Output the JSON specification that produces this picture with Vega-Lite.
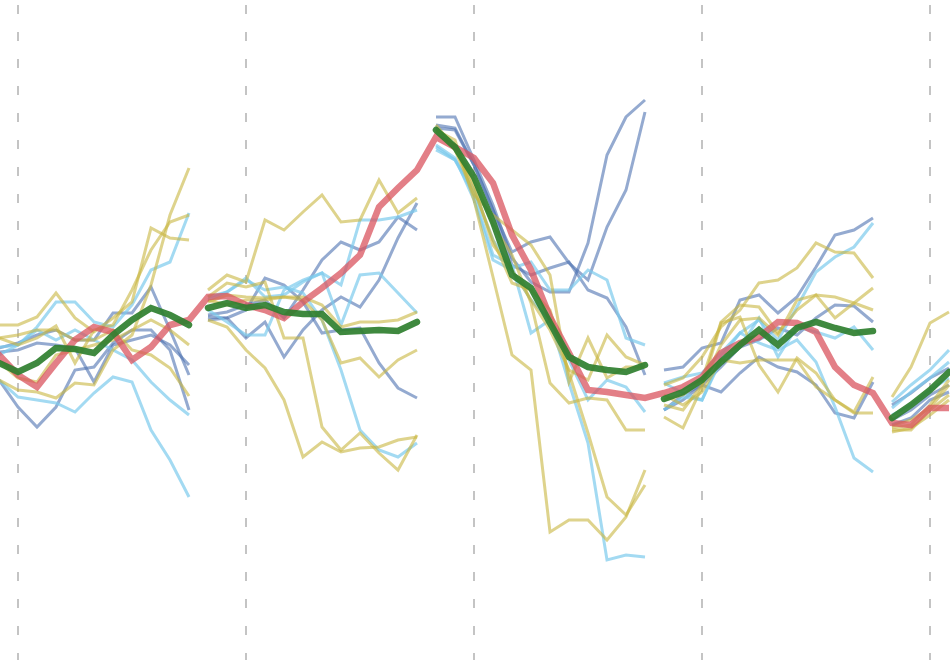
{
"$schema": "https://vega.github.io/schema/vega-lite/v6.json",
"width": 950, "height": 660, "padding": 0, "autosize": {"type": "none"},
"background": "white",
"config": {"view": {"stroke": null}},
"datasets": {
"grid": [{"t":2},{"t":14},{"t":26},{"t":38},{"t":50}],
"lines": [
{"kind":"red","line":"r","t":0,"v":15},{"kind":"red","line":"r","t":1,"v":5},{"kind":"red","line":"r","t":2,"v":-15},{"kind":"red","line":"r","t":3,"v":-27},{"kind":"red","line":"r","t":4,"v":-3},{"kind":"red","line":"r","t":5,"v":20},{"kind":"red","line":"r","t":6,"v":33},{"kind":"red","line":"r","t":7,"v":28},{"kind":"red","line":"r","t":8,"v":0},{"kind":"red","line":"r","t":9,"v":13},{"kind":"red","line":"r","t":10,"v":35},{"kind":"red","line":"r","t":11,"v":40},
{"kind":"red","line":"r","t":12,"v":63},{"kind":"red","line":"r","t":13,"v":64},{"kind":"red","line":"r","t":14,"v":55},{"kind":"red","line":"r","t":15,"v":50},{"kind":"red","line":"r","t":16,"v":42},{"kind":"red","line":"r","t":17,"v":58},{"kind":"red","line":"r","t":18,"v":72},{"kind":"red","line":"r","t":19,"v":87},{"kind":"red","line":"r","t":20,"v":105},{"kind":"red","line":"r","t":21,"v":153},{"kind":"red","line":"r","t":22,"v":172},{"kind":"red","line":"r","t":23,"v":190},
{"kind":"red","line":"r","t":24,"v":223},{"kind":"red","line":"r","t":25,"v":213},{"kind":"red","line":"r","t":26,"v":202},{"kind":"red","line":"r","t":27,"v":177},{"kind":"red","line":"r","t":28,"v":125},{"kind":"red","line":"r","t":29,"v":90},{"kind":"red","line":"r","t":30,"v":43},{"kind":"red","line":"r","t":31,"v":7},{"kind":"red","line":"r","t":32,"v":-30},{"kind":"red","line":"r","t":33,"v":-32},{"kind":"red","line":"r","t":34,"v":-35},{"kind":"red","line":"r","t":35,"v":-38},
{"kind":"red","line":"r","t":36,"v":-33},{"kind":"red","line":"r","t":37,"v":-27},{"kind":"red","line":"r","t":38,"v":-17},{"kind":"red","line":"r","t":39,"v":7},{"kind":"red","line":"r","t":40,"v":17},{"kind":"red","line":"r","t":41,"v":23},{"kind":"red","line":"r","t":42,"v":38},{"kind":"red","line":"r","t":43,"v":37},{"kind":"red","line":"r","t":44,"v":28},{"kind":"red","line":"r","t":45,"v":-7},{"kind":"red","line":"r","t":46,"v":-25},{"kind":"red","line":"r","t":47,"v":-33},
{"kind":"red","line":"r","t":48,"v":-63},{"kind":"red","line":"r","t":49,"v":-65},{"kind":"red","line":"r","t":50,"v":-48},{"kind":"red","line":"r","t":51,"v":-48},

{"kind":"green","line":"g1","t":0,"v":5},{"kind":"green","line":"g1","t":1,"v":-3},{"kind":"green","line":"g1","t":2,"v":-12},{"kind":"green","line":"g1","t":3,"v":-3},{"kind":"green","line":"g1","t":4,"v":12},{"kind":"green","line":"g1","t":5,"v":11},{"kind":"green","line":"g1","t":6,"v":7},{"kind":"green","line":"g1","t":7,"v":25},{"kind":"green","line":"g1","t":8,"v":40},{"kind":"green","line":"g1","t":9,"v":52},{"kind":"green","line":"g1","t":10,"v":45},{"kind":"green","line":"g1","t":11,"v":35},
{"kind":"green","line":"g2","t":12,"v":52},{"kind":"green","line":"g2","t":13,"v":57},{"kind":"green","line":"g2","t":14,"v":52},{"kind":"green","line":"g2","t":15,"v":55},{"kind":"green","line":"g2","t":16,"v":48},{"kind":"green","line":"g2","t":17,"v":46},{"kind":"green","line":"g2","t":18,"v":46},{"kind":"green","line":"g2","t":19,"v":28},{"kind":"green","line":"g2","t":20,"v":29},{"kind":"green","line":"g2","t":21,"v":30},{"kind":"green","line":"g2","t":22,"v":29},{"kind":"green","line":"g2","t":23,"v":38},
{"kind":"green","line":"g3","t":24,"v":230},{"kind":"green","line":"g3","t":25,"v":213},{"kind":"green","line":"g3","t":26,"v":183},{"kind":"green","line":"g3","t":27,"v":138},{"kind":"green","line":"g3","t":28,"v":85},{"kind":"green","line":"g3","t":29,"v":72},{"kind":"green","line":"g3","t":30,"v":37},{"kind":"green","line":"g3","t":31,"v":3},{"kind":"green","line":"g3","t":32,"v":-7},{"kind":"green","line":"g3","t":33,"v":-10},{"kind":"green","line":"g3","t":34,"v":-12},{"kind":"green","line":"g3","t":35,"v":-5},
{"kind":"green","line":"g4","t":36,"v":-39},{"kind":"green","line":"g4","t":37,"v":-32},{"kind":"green","line":"g4","t":38,"v":-20},{"kind":"green","line":"g4","t":39,"v":-2},{"kind":"green","line":"g4","t":40,"v":15},{"kind":"green","line":"g4","t":41,"v":30},{"kind":"green","line":"g4","t":42,"v":15},{"kind":"green","line":"g4","t":43,"v":32},{"kind":"green","line":"g4","t":44,"v":38},{"kind":"green","line":"g4","t":45,"v":32},{"kind":"green","line":"g4","t":46,"v":27},{"kind":"green","line":"g4","t":47,"v":29},
{"kind":"green","line":"g5","t":48,"v":-58},{"kind":"green","line":"g5","t":49,"v":-45},{"kind":"green","line":"g5","t":50,"v":-30},{"kind":"green","line":"g5","t":51,"v":-12},

{"kind":"kh","line":"1kh1","t":0,"v":-12},{"kind":"kh","line":"1kh1","t":1,"v":-20},{"kind":"kh","line":"1kh1","t":2,"v":-30},{"kind":"kh","line":"1kh1","t":3,"v":-32},{"kind":"kh","line":"1kh1","t":4,"v":-38},{"kind":"kh","line":"1kh1","t":5,"v":-23},{"kind":"kh","line":"1kh1","t":6,"v":-25},{"kind":"kh","line":"1kh1","t":7,"v":10},{"kind":"kh","line":"1kh1","t":8,"v":25},{"kind":"kh","line":"1kh1","t":9,"v":75},{"kind":"kh","line":"1kh1","t":10,"v":145},{"kind":"kh","line":"1kh1","t":11,"v":192},
{"kind":"kh","line":"1kh2","t":0,"v":35},{"kind":"kh","line":"1kh2","t":1,"v":35},{"kind":"kh","line":"1kh2","t":2,"v":35},{"kind":"kh","line":"1kh2","t":3,"v":43},{"kind":"kh","line":"1kh2","t":4,"v":67},{"kind":"kh","line":"1kh2","t":5,"v":42},{"kind":"kh","line":"1kh2","t":6,"v":28},{"kind":"kh","line":"1kh2","t":7,"v":42},{"kind":"kh","line":"1kh2","t":8,"v":58},{"kind":"kh","line":"1kh2","t":9,"v":132},{"kind":"kh","line":"1kh2","t":10,"v":122},{"kind":"kh","line":"1kh2","t":11,"v":120},
{"kind":"kh","line":"1kh3","t":0,"v":15},{"kind":"kh","line":"1kh3","t":1,"v":22},{"kind":"kh","line":"1kh3","t":2,"v":15},{"kind":"kh","line":"1kh3","t":3,"v":22},{"kind":"kh","line":"1kh3","t":4,"v":34},{"kind":"kh","line":"1kh3","t":5,"v":-3},{"kind":"kh","line":"1kh3","t":6,"v":30},{"kind":"kh","line":"1kh3","t":7,"v":35},{"kind":"kh","line":"1kh3","t":8,"v":70},{"kind":"kh","line":"1kh3","t":9,"v":110},{"kind":"kh","line":"1kh3","t":10,"v":138},{"kind":"kh","line":"1kh3","t":11,"v":145},
{"kind":"kh","line":"1kh4","t":0,"v":20},{"kind":"kh","line":"1kh4","t":1,"v":22},{"kind":"kh","line":"1kh4","t":2,"v":25},{"kind":"kh","line":"1kh4","t":3,"v":30},{"kind":"kh","line":"1kh4","t":4,"v":30},{"kind":"kh","line":"1kh4","t":5,"v":20},{"kind":"kh","line":"1kh4","t":6,"v":20},{"kind":"kh","line":"1kh4","t":7,"v":30},{"kind":"kh","line":"1kh4","t":8,"v":10},{"kind":"kh","line":"1kh4","t":9,"v":5},{"kind":"kh","line":"1kh4","t":10,"v":-8},{"kind":"kh","line":"1kh4","t":11,"v":-36},
{"kind":"kh","line":"1kh5","t":0,"v":5},{"kind":"kh","line":"1kh5","t":1,"v":-2},{"kind":"kh","line":"1kh5","t":2,"v":-18},{"kind":"kh","line":"1kh5","t":3,"v":-22},{"kind":"kh","line":"1kh5","t":4,"v":5},{"kind":"kh","line":"1kh5","t":5,"v":10},{"kind":"kh","line":"1kh5","t":6,"v":15},{"kind":"kh","line":"1kh5","t":7,"v":20},{"kind":"kh","line":"1kh5","t":8,"v":30},{"kind":"kh","line":"1kh5","t":9,"v":40},{"kind":"kh","line":"1kh5","t":10,"v":30},{"kind":"kh","line":"1kh5","t":11,"v":15},
{"kind":"lb","line":"1lb1","t":0,"v":15},{"kind":"lb","line":"1lb1","t":1,"v":13},{"kind":"lb","line":"1lb1","t":2,"v":15},{"kind":"lb","line":"1lb1","t":3,"v":33},{"kind":"lb","line":"1lb1","t":4,"v":58},{"kind":"lb","line":"1lb1","t":5,"v":58},{"kind":"lb","line":"1lb1","t":6,"v":38},{"kind":"lb","line":"1lb1","t":7,"v":33},{"kind":"lb","line":"1lb1","t":8,"v":55},{"kind":"lb","line":"1lb1","t":9,"v":90},{"kind":"lb","line":"1lb1","t":10,"v":98},{"kind":"lb","line":"1lb1","t":11,"v":147},
{"kind":"lb","line":"1lb2","t":0,"v":10},{"kind":"lb","line":"1lb2","t":1,"v":5},{"kind":"lb","line":"1lb2","t":2,"v":15},{"kind":"lb","line":"1lb2","t":3,"v":30},{"kind":"lb","line":"1lb2","t":4,"v":20},{"kind":"lb","line":"1lb2","t":5,"v":30},{"kind":"lb","line":"1lb2","t":6,"v":20},{"kind":"lb","line":"1lb2","t":7,"v":10},{"kind":"lb","line":"1lb2","t":8,"v":0},{"kind":"lb","line":"1lb2","t":9,"v":-22},{"kind":"lb","line":"1lb2","t":10,"v":-40},{"kind":"lb","line":"1lb2","t":11,"v":-55},
{"kind":"lb","line":"1lb3","t":0,"v":-15},{"kind":"lb","line":"1lb3","t":1,"v":-20},{"kind":"lb","line":"1lb3","t":2,"v":-37},{"kind":"lb","line":"1lb3","t":3,"v":-40},{"kind":"lb","line":"1lb3","t":4,"v":-43},{"kind":"lb","line":"1lb3","t":5,"v":-52},{"kind":"lb","line":"1lb3","t":6,"v":-33},{"kind":"lb","line":"1lb3","t":7,"v":-17},{"kind":"lb","line":"1lb3","t":8,"v":-22},{"kind":"lb","line":"1lb3","t":9,"v":-70},{"kind":"lb","line":"1lb3","t":10,"v":-100},{"kind":"lb","line":"1lb3","t":11,"v":-137},
{"kind":"db","line":"1db1","t":0,"v":12},{"kind":"db","line":"1db1","t":1,"v":12},{"kind":"db","line":"1db1","t":2,"v":17},{"kind":"db","line":"1db1","t":3,"v":25},{"kind":"db","line":"1db1","t":4,"v":30},{"kind":"db","line":"1db1","t":5,"v":20},{"kind":"db","line":"1db1","t":6,"v":20},{"kind":"db","line":"1db1","t":7,"v":47},{"kind":"db","line":"1db1","t":8,"v":47},{"kind":"db","line":"1db1","t":9,"v":73},{"kind":"db","line":"1db1","t":10,"v":30},{"kind":"db","line":"1db1","t":11,"v":-15},
{"kind":"db","line":"1db2","t":0,"v":-5},{"kind":"db","line":"1db2","t":1,"v":-20},{"kind":"db","line":"1db2","t":2,"v":-47},{"kind":"db","line":"1db2","t":3,"v":-67},{"kind":"db","line":"1db2","t":4,"v":-47},{"kind":"db","line":"1db2","t":5,"v":-10},{"kind":"db","line":"1db2","t":6,"v":-7},{"kind":"db","line":"1db2","t":7,"v":17},{"kind":"db","line":"1db2","t":8,"v":30},{"kind":"db","line":"1db2","t":9,"v":30},{"kind":"db","line":"1db2","t":10,"v":10},{"kind":"db","line":"1db2","t":11,"v":-50},
{"kind":"db","line":"1db3","t":0,"v":10},{"kind":"db","line":"1db3","t":1,"v":8},{"kind":"db","line":"1db3","t":2,"v":10},{"kind":"db","line":"1db3","t":3,"v":17},{"kind":"db","line":"1db3","t":4,"v":15},{"kind":"db","line":"1db3","t":5,"v":12},{"kind":"db","line":"1db3","t":6,"v":-22},{"kind":"db","line":"1db3","t":7,"v":15},{"kind":"db","line":"1db3","t":8,"v":20},{"kind":"db","line":"1db3","t":9,"v":25},{"kind":"db","line":"1db3","t":10,"v":15},{"kind":"db","line":"1db3","t":11,"v":-5},

{"kind":"kh","line":"2kh1","t":12,"v":70},{"kind":"kh","line":"2kh1","t":13,"v":85},{"kind":"kh","line":"2kh1","t":14,"v":78},{"kind":"kh","line":"2kh1","t":15,"v":140},{"kind":"kh","line":"2kh1","t":16,"v":130},{"kind":"kh","line":"2kh1","t":17,"v":148},{"kind":"kh","line":"2kh1","t":18,"v":165},{"kind":"kh","line":"2kh1","t":19,"v":138},{"kind":"kh","line":"2kh1","t":20,"v":140},{"kind":"kh","line":"2kh1","t":21,"v":180},{"kind":"kh","line":"2kh1","t":22,"v":147},{"kind":"kh","line":"2kh1","t":23,"v":162},
{"kind":"kh","line":"2kh2","t":12,"v":40},{"kind":"kh","line":"2kh2","t":13,"v":33},{"kind":"kh","line":"2kh2","t":14,"v":10},{"kind":"kh","line":"2kh2","t":15,"v":-8},{"kind":"kh","line":"2kh2","t":16,"v":-40},{"kind":"kh","line":"2kh2","t":17,"v":-97},{"kind":"kh","line":"2kh2","t":18,"v":-82},{"kind":"kh","line":"2kh2","t":19,"v":-92},{"kind":"kh","line":"2kh2","t":20,"v":-88},{"kind":"kh","line":"2kh2","t":21,"v":-87},{"kind":"kh","line":"2kh2","t":22,"v":-80},{"kind":"kh","line":"2kh2","t":23,"v":-77},
{"kind":"kh","line":"2kh3","t":12,"v":63},{"kind":"kh","line":"2kh3","t":13,"v":77},{"kind":"kh","line":"2kh3","t":14,"v":73},{"kind":"kh","line":"2kh3","t":15,"v":78},{"kind":"kh","line":"2kh3","t":16,"v":22},{"kind":"kh","line":"2kh3","t":17,"v":22},{"kind":"kh","line":"2kh3","t":18,"v":-67},{"kind":"kh","line":"2kh3","t":19,"v":-90},{"kind":"kh","line":"2kh3","t":20,"v":-73},{"kind":"kh","line":"2kh3","t":21,"v":-93},{"kind":"kh","line":"2kh3","t":22,"v":-110},{"kind":"kh","line":"2kh3","t":23,"v":-75},
{"kind":"kh","line":"2kh4","t":12,"v":60},{"kind":"kh","line":"2kh4","t":13,"v":55},{"kind":"kh","line":"2kh4","t":14,"v":60},{"kind":"kh","line":"2kh4","t":15,"v":60},{"kind":"kh","line":"2kh4","t":16,"v":63},{"kind":"kh","line":"2kh4","t":17,"v":60},{"kind":"kh","line":"2kh4","t":18,"v":40},{"kind":"kh","line":"2kh4","t":19,"v":-3},{"kind":"kh","line":"2kh4","t":20,"v":2},{"kind":"kh","line":"2kh4","t":21,"v":-17},{"kind":"kh","line":"2kh4","t":22,"v":0},{"kind":"kh","line":"2kh4","t":23,"v":10},
{"kind":"kh","line":"2kh5","t":12,"v":58},{"kind":"kh","line":"2kh5","t":13,"v":65},{"kind":"kh","line":"2kh5","t":14,"v":63},{"kind":"kh","line":"2kh5","t":15,"v":62},{"kind":"kh","line":"2kh5","t":16,"v":63},{"kind":"kh","line":"2kh5","t":17,"v":63},{"kind":"kh","line":"2kh5","t":18,"v":55},{"kind":"kh","line":"2kh5","t":19,"v":33},{"kind":"kh","line":"2kh5","t":20,"v":38},{"kind":"kh","line":"2kh5","t":21,"v":38},{"kind":"kh","line":"2kh5","t":22,"v":40},{"kind":"kh","line":"2kh5","t":23,"v":48},
{"kind":"lb","line":"2lb1","t":12,"v":63},{"kind":"lb","line":"2lb1","t":13,"v":68},{"kind":"lb","line":"2lb1","t":14,"v":82},{"kind":"lb","line":"2lb1","t":15,"v":63},{"kind":"lb","line":"2lb1","t":16,"v":65},{"kind":"lb","line":"2lb1","t":17,"v":78},{"kind":"lb","line":"2lb1","t":18,"v":87},{"kind":"lb","line":"2lb1","t":19,"v":75},{"kind":"lb","line":"2lb1","t":20,"v":140},{"kind":"lb","line":"2lb1","t":21,"v":140},{"kind":"lb","line":"2lb1","t":22,"v":143},{"kind":"lb","line":"2lb1","t":23,"v":150},
{"kind":"lb","line":"2lb2","t":12,"v":60},{"kind":"lb","line":"2lb2","t":13,"v":68},{"kind":"lb","line":"2lb2","t":14,"v":80},{"kind":"lb","line":"2lb2","t":15,"v":70},{"kind":"lb","line":"2lb2","t":16,"v":73},{"kind":"lb","line":"2lb2","t":17,"v":67},{"kind":"lb","line":"2lb2","t":18,"v":40},{"kind":"lb","line":"2lb2","t":19,"v":-10},{"kind":"lb","line":"2lb2","t":20,"v":-70},{"kind":"lb","line":"2lb2","t":21,"v":-90},{"kind":"lb","line":"2lb2","t":22,"v":-97},{"kind":"lb","line":"2lb2","t":23,"v":-83},
{"kind":"lb","line":"2lb3","t":12,"v":50},{"kind":"lb","line":"2lb3","t":13,"v":38},{"kind":"lb","line":"2lb3","t":14,"v":25},{"kind":"lb","line":"2lb3","t":15,"v":25},{"kind":"lb","line":"2lb3","t":16,"v":70},{"kind":"lb","line":"2lb3","t":17,"v":80},{"kind":"lb","line":"2lb3","t":18,"v":87},{"kind":"lb","line":"2lb3","t":19,"v":35},{"kind":"lb","line":"2lb3","t":20,"v":85},{"kind":"lb","line":"2lb3","t":21,"v":87},{"kind":"lb","line":"2lb3","t":22,"v":67},{"kind":"lb","line":"2lb3","t":23,"v":47},
{"kind":"db","line":"2db1","t":12,"v":43},{"kind":"db","line":"2db1","t":13,"v":42},{"kind":"db","line":"2db1","t":14,"v":22},{"kind":"db","line":"2db1","t":15,"v":38},{"kind":"db","line":"2db1","t":16,"v":3},{"kind":"db","line":"2db1","t":17,"v":30},{"kind":"db","line":"2db1","t":18,"v":50},{"kind":"db","line":"2db1","t":19,"v":63},{"kind":"db","line":"2db1","t":20,"v":53},{"kind":"db","line":"2db1","t":21,"v":80},{"kind":"db","line":"2db1","t":22,"v":122},{"kind":"db","line":"2db1","t":23,"v":157},
{"kind":"db","line":"2db2","t":12,"v":45},{"kind":"db","line":"2db2","t":13,"v":48},{"kind":"db","line":"2db2","t":14,"v":55},{"kind":"db","line":"2db2","t":15,"v":60},{"kind":"db","line":"2db2","t":16,"v":42},{"kind":"db","line":"2db2","t":17,"v":70},{"kind":"db","line":"2db2","t":18,"v":100},{"kind":"db","line":"2db2","t":19,"v":118},{"kind":"db","line":"2db2","t":20,"v":110},{"kind":"db","line":"2db2","t":21,"v":118},{"kind":"db","line":"2db2","t":22,"v":143},{"kind":"db","line":"2db2","t":23,"v":130},
{"kind":"db","line":"2db3","t":12,"v":40},{"kind":"db","line":"2db3","t":13,"v":42},{"kind":"db","line":"2db3","t":14,"v":50},{"kind":"db","line":"2db3","t":15,"v":82},{"kind":"db","line":"2db3","t":16,"v":75},{"kind":"db","line":"2db3","t":17,"v":58},{"kind":"db","line":"2db3","t":18,"v":27},{"kind":"db","line":"2db3","t":19,"v":30},{"kind":"db","line":"2db3","t":20,"v":32},{"kind":"db","line":"2db3","t":21,"v":-3},{"kind":"db","line":"2db3","t":22,"v":-28},{"kind":"db","line":"2db3","t":23,"v":-38},

{"kind":"db","line":"3db1","t":24,"v":243},{"kind":"db","line":"3db1","t":25,"v":243},{"kind":"db","line":"3db1","t":26,"v":200},{"kind":"db","line":"3db1","t":27,"v":155},{"kind":"db","line":"3db1","t":28,"v":102},{"kind":"db","line":"3db1","t":29,"v":78},{"kind":"db","line":"3db1","t":30,"v":68},{"kind":"db","line":"3db1","t":31,"v":68},{"kind":"db","line":"3db1","t":32,"v":117},{"kind":"db","line":"3db1","t":33,"v":205},{"kind":"db","line":"3db1","t":34,"v":243},{"kind":"db","line":"3db1","t":35,"v":260},
{"kind":"db","line":"3db2","t":24,"v":232},{"kind":"db","line":"3db2","t":25,"v":230},{"kind":"db","line":"3db2","t":26,"v":195},{"kind":"db","line":"3db2","t":27,"v":150},{"kind":"db","line":"3db2","t":28,"v":108},{"kind":"db","line":"3db2","t":29,"v":118},{"kind":"db","line":"3db2","t":30,"v":123},{"kind":"db","line":"3db2","t":31,"v":97},{"kind":"db","line":"3db2","t":32,"v":80},{"kind":"db","line":"3db2","t":33,"v":133},{"kind":"db","line":"3db2","t":34,"v":170},{"kind":"db","line":"3db2","t":35,"v":248},
{"kind":"db","line":"3db3","t":24,"v":235},{"kind":"db","line":"3db3","t":25,"v":232},{"kind":"db","line":"3db3","t":26,"v":195},{"kind":"db","line":"3db3","t":27,"v":150},{"kind":"db","line":"3db3","t":28,"v":95},{"kind":"db","line":"3db3","t":29,"v":85},{"kind":"db","line":"3db3","t":30,"v":92},{"kind":"db","line":"3db3","t":31,"v":98},{"kind":"db","line":"3db3","t":32,"v":70},{"kind":"db","line":"3db3","t":33,"v":62},{"kind":"db","line":"3db3","t":34,"v":33},{"kind":"db","line":"3db3","t":35,"v":-15},
{"kind":"lb","line":"3lb1","t":24,"v":210},{"kind":"lb","line":"3lb1","t":25,"v":200},{"kind":"lb","line":"3lb1","t":26,"v":170},{"kind":"lb","line":"3lb1","t":27,"v":120},{"kind":"lb","line":"3lb1","t":28,"v":92},{"kind":"lb","line":"3lb1","t":29,"v":98},{"kind":"lb","line":"3lb1","t":30,"v":70},{"kind":"lb","line":"3lb1","t":31,"v":70},{"kind":"lb","line":"3lb1","t":32,"v":90},{"kind":"lb","line":"3lb1","t":33,"v":80},{"kind":"lb","line":"3lb1","t":34,"v":22},{"kind":"lb","line":"3lb1","t":35,"v":15},
{"kind":"lb","line":"3lb2","t":24,"v":213},{"kind":"lb","line":"3lb2","t":25,"v":200},{"kind":"lb","line":"3lb2","t":26,"v":165},{"kind":"lb","line":"3lb2","t":27,"v":105},{"kind":"lb","line":"3lb2","t":28,"v":95},{"kind":"lb","line":"3lb2","t":29,"v":27},{"kind":"lb","line":"3lb2","t":30,"v":40},{"kind":"lb","line":"3lb2","t":31,"v":0},{"kind":"lb","line":"3lb2","t":32,"v":-40},{"kind":"lb","line":"3lb2","t":33,"v":-20},{"kind":"lb","line":"3lb2","t":34,"v":-27},{"kind":"lb","line":"3lb2","t":35,"v":-52},
{"kind":"lb","line":"3lb3","t":24,"v":215},{"kind":"lb","line":"3lb3","t":25,"v":202},{"kind":"lb","line":"3lb3","t":26,"v":160},{"kind":"lb","line":"3lb3","t":27,"v":100},{"kind":"lb","line":"3lb3","t":28,"v":90},{"kind":"lb","line":"3lb3","t":29,"v":60},{"kind":"lb","line":"3lb3","t":30,"v":40},{"kind":"lb","line":"3lb3","t":31,"v":-23},{"kind":"lb","line":"3lb3","t":32,"v":-83},{"kind":"lb","line":"3lb3","t":33,"v":-200},{"kind":"lb","line":"3lb3","t":34,"v":-195},{"kind":"lb","line":"3lb3","t":35,"v":-197},
{"kind":"kh","line":"3kh1","t":24,"v":230},{"kind":"kh","line":"3kh1","t":25,"v":220},{"kind":"kh","line":"3kh1","t":26,"v":160},{"kind":"kh","line":"3kh1","t":27,"v":83},{"kind":"kh","line":"3kh1","t":28,"v":5},{"kind":"kh","line":"3kh1","t":29,"v":-10},{"kind":"kh","line":"3kh1","t":30,"v":-172},{"kind":"kh","line":"3kh1","t":31,"v":-160},{"kind":"kh","line":"3kh1","t":32,"v":-160},{"kind":"kh","line":"3kh1","t":33,"v":-180},{"kind":"kh","line":"3kh1","t":34,"v":-157},{"kind":"kh","line":"3kh1","t":35,"v":-110},
{"kind":"kh","line":"3kh2","t":24,"v":232},{"kind":"kh","line":"3kh2","t":25,"v":215},{"kind":"kh","line":"3kh2","t":26,"v":180},{"kind":"kh","line":"3kh2","t":27,"v":135},{"kind":"kh","line":"3kh2","t":28,"v":105},{"kind":"kh","line":"3kh2","t":29,"v":57},{"kind":"kh","line":"3kh2","t":30,"v":-23},{"kind":"kh","line":"3kh2","t":31,"v":-43},{"kind":"kh","line":"3kh2","t":32,"v":-38},{"kind":"kh","line":"3kh2","t":33,"v":-40},{"kind":"kh","line":"3kh2","t":34,"v":-70},{"kind":"kh","line":"3kh2","t":35,"v":-70},
{"kind":"kh","line":"3kh3","t":24,"v":235},{"kind":"kh","line":"3kh3","t":25,"v":212},{"kind":"kh","line":"3kh3","t":26,"v":170},{"kind":"kh","line":"3kh3","t":27,"v":120},{"kind":"kh","line":"3kh3","t":28,"v":77},{"kind":"kh","line":"3kh3","t":29,"v":70},{"kind":"kh","line":"3kh3","t":30,"v":50},{"kind":"kh","line":"3kh3","t":31,"v":-13},{"kind":"kh","line":"3kh3","t":32,"v":-73},{"kind":"kh","line":"3kh3","t":33,"v":-137},{"kind":"kh","line":"3kh3","t":34,"v":-155},{"kind":"kh","line":"3kh3","t":35,"v":-125},
{"kind":"kh","line":"3kh4","t":24,"v":228},{"kind":"kh","line":"3kh4","t":25,"v":210},{"kind":"kh","line":"3kh4","t":26,"v":165},{"kind":"kh","line":"3kh4","t":27,"v":145},{"kind":"kh","line":"3kh4","t":28,"v":130},{"kind":"kh","line":"3kh4","t":29,"v":115},{"kind":"kh","line":"3kh4","t":30,"v":85},{"kind":"kh","line":"3kh4","t":31,"v":-22},{"kind":"kh","line":"3kh4","t":32,"v":22},{"kind":"kh","line":"3kh4","t":33,"v":-18},{"kind":"kh","line":"3kh4","t":34,"v":-7},{"kind":"kh","line":"3kh4","t":35,"v":-7},
{"kind":"kh","line":"3kh5","t":24,"v":230},{"kind":"kh","line":"3kh5","t":25,"v":212},{"kind":"kh","line":"3kh5","t":26,"v":175},{"kind":"kh","line":"3kh5","t":27,"v":115},{"kind":"kh","line":"3kh5","t":28,"v":90},{"kind":"kh","line":"3kh5","t":29,"v":60},{"kind":"kh","line":"3kh5","t":30,"v":30},{"kind":"kh","line":"3kh5","t":31,"v":-10},{"kind":"kh","line":"3kh5","t":32,"v":-20},{"kind":"kh","line":"3kh5","t":33,"v":25},{"kind":"kh","line":"3kh5","t":34,"v":3},{"kind":"kh","line":"3kh5","t":35,"v":-5},

{"kind":"db","line":"4db1","t":36,"v":-10},{"kind":"db","line":"4db1","t":37,"v":-7},{"kind":"db","line":"4db1","t":38,"v":12},{"kind":"db","line":"4db1","t":39,"v":17},{"kind":"db","line":"4db1","t":40,"v":60},{"kind":"db","line":"4db1","t":41,"v":65},{"kind":"db","line":"4db1","t":42,"v":47},{"kind":"db","line":"4db1","t":43,"v":63},{"kind":"db","line":"4db1","t":44,"v":93},{"kind":"db","line":"4db1","t":45,"v":125},{"kind":"db","line":"4db1","t":46,"v":130},{"kind":"db","line":"4db1","t":47,"v":142},
{"kind":"lb","line":"4lb1","t":36,"v":-23},{"kind":"lb","line":"4lb1","t":37,"v":-17},{"kind":"lb","line":"4lb1","t":38,"v":-13},{"kind":"lb","line":"4lb1","t":39,"v":7},{"kind":"lb","line":"4lb1","t":40,"v":27},{"kind":"lb","line":"4lb1","t":41,"v":40},{"kind":"lb","line":"4lb1","t":42,"v":20},{"kind":"lb","line":"4lb1","t":43,"v":53},{"kind":"lb","line":"4lb1","t":44,"v":88},{"kind":"lb","line":"4lb1","t":45,"v":103},{"kind":"lb","line":"4lb1","t":46,"v":113},{"kind":"lb","line":"4lb1","t":47,"v":137},
{"kind":"kh","line":"4kh1","t":36,"v":-25},{"kind":"kh","line":"4kh1","t":37,"v":-18},{"kind":"kh","line":"4kh1","t":38,"v":3},{"kind":"kh","line":"4kh1","t":39,"v":33},{"kind":"kh","line":"4kh1","t":40,"v":50},{"kind":"kh","line":"4kh1","t":41,"v":77},{"kind":"kh","line":"4kh1","t":42,"v":80},{"kind":"kh","line":"4kh1","t":43,"v":92},{"kind":"kh","line":"4kh1","t":44,"v":117},{"kind":"kh","line":"4kh1","t":45,"v":108},{"kind":"kh","line":"4kh1","t":46,"v":107},{"kind":"kh","line":"4kh1","t":47,"v":82},
{"kind":"kh","line":"4kh2","t":36,"v":-40},{"kind":"kh","line":"4kh2","t":37,"v":-35},{"kind":"kh","line":"4kh2","t":38,"v":-20},{"kind":"kh","line":"4kh2","t":39,"v":38},{"kind":"kh","line":"4kh2","t":40,"v":55},{"kind":"kh","line":"4kh2","t":41,"v":53},{"kind":"kh","line":"4kh2","t":42,"v":27},{"kind":"kh","line":"4kh2","t":43,"v":50},{"kind":"kh","line":"4kh2","t":44,"v":65},{"kind":"kh","line":"4kh2","t":45,"v":42},{"kind":"kh","line":"4kh2","t":46,"v":57},{"kind":"kh","line":"4kh2","t":47,"v":72},
{"kind":"kh","line":"4kh3","t":36,"v":-45},{"kind":"kh","line":"4kh3","t":37,"v":-50},{"kind":"kh","line":"4kh3","t":38,"v":-25},{"kind":"kh","line":"4kh3","t":39,"v":15},{"kind":"kh","line":"4kh3","t":40,"v":40},{"kind":"kh","line":"4kh3","t":41,"v":42},{"kind":"kh","line":"4kh3","t":42,"v":25},{"kind":"kh","line":"4kh3","t":43,"v":60},{"kind":"kh","line":"4kh3","t":44,"v":65},{"kind":"kh","line":"4kh3","t":45,"v":63},{"kind":"kh","line":"4kh3","t":46,"v":57},{"kind":"kh","line":"4kh3","t":47,"v":50},
{"kind":"db","line":"4db2","t":36,"v":-50},{"kind":"db","line":"4db2","t":37,"v":-35},{"kind":"db","line":"4db2","t":38,"v":-25},{"kind":"db","line":"4db2","t":39,"v":-7},{"kind":"db","line":"4db2","t":40,"v":13},{"kind":"db","line":"4db2","t":41,"v":20},{"kind":"db","line":"4db2","t":42,"v":32},{"kind":"db","line":"4db2","t":43,"v":25},{"kind":"db","line":"4db2","t":44,"v":42},{"kind":"db","line":"4db2","t":45,"v":55},{"kind":"db","line":"4db2","t":46,"v":54},{"kind":"db","line":"4db2","t":47,"v":38},
{"kind":"lb","line":"4lb2","t":36,"v":-23},{"kind":"lb","line":"4lb2","t":37,"v":-33},{"kind":"lb","line":"4lb2","t":38,"v":-40},{"kind":"lb","line":"4lb2","t":39,"v":0},{"kind":"lb","line":"4lb2","t":40,"v":13},{"kind":"lb","line":"4lb2","t":41,"v":42},{"kind":"lb","line":"4lb2","t":42,"v":3},{"kind":"lb","line":"4lb2","t":43,"v":33},{"kind":"lb","line":"4lb2","t":44,"v":28},{"kind":"lb","line":"4lb2","t":45,"v":22},{"kind":"lb","line":"4lb2","t":46,"v":33},{"kind":"lb","line":"4lb2","t":47,"v":10},
{"kind":"lb","line":"4lb3","t":36,"v":-50},{"kind":"lb","line":"4lb3","t":37,"v":-37},{"kind":"lb","line":"4lb3","t":38,"v":-40},{"kind":"lb","line":"4lb3","t":39,"v":3},{"kind":"lb","line":"4lb3","t":40,"v":27},{"kind":"lb","line":"4lb3","t":41,"v":17},{"kind":"lb","line":"4lb3","t":42,"v":10},{"kind":"lb","line":"4lb3","t":43,"v":20},{"kind":"lb","line":"4lb3","t":44,"v":-2},{"kind":"lb","line":"4lb3","t":45,"v":-47},{"kind":"lb","line":"4lb3","t":46,"v":-98},{"kind":"lb","line":"4lb3","t":47,"v":-112},
{"kind":"db","line":"4db3","t":36,"v":-50},{"kind":"db","line":"4db3","t":37,"v":-40},{"kind":"db","line":"4db3","t":38,"v":-25},{"kind":"db","line":"4db3","t":39,"v":-32},{"kind":"db","line":"4db3","t":40,"v":-13},{"kind":"db","line":"4db3","t":41,"v":3},{"kind":"db","line":"4db3","t":42,"v":-7},{"kind":"db","line":"4db3","t":43,"v":-12},{"kind":"db","line":"4db3","t":44,"v":-25},{"kind":"db","line":"4db3","t":45,"v":-53},{"kind":"db","line":"4db3","t":46,"v":-58},{"kind":"db","line":"4db3","t":47,"v":-22},
{"kind":"kh","line":"4kh4","t":36,"v":-35},{"kind":"kh","line":"4kh4","t":37,"v":-45},{"kind":"kh","line":"4kh4","t":38,"v":-32},{"kind":"kh","line":"4kh4","t":39,"v":0},{"kind":"kh","line":"4kh4","t":40,"v":-3},{"kind":"kh","line":"4kh4","t":41,"v":0},{"kind":"kh","line":"4kh4","t":42,"v":0},{"kind":"kh","line":"4kh4","t":43,"v":0},{"kind":"kh","line":"4kh4","t":44,"v":-27},{"kind":"kh","line":"4kh4","t":45,"v":-40},{"kind":"kh","line":"4kh4","t":46,"v":-52},{"kind":"kh","line":"4kh4","t":47,"v":-17},
{"kind":"kh","line":"4kh5","t":36,"v":-57},{"kind":"kh","line":"4kh5","t":37,"v":-68},{"kind":"kh","line":"4kh5","t":38,"v":-27},{"kind":"kh","line":"4kh5","t":39,"v":37},{"kind":"kh","line":"4kh5","t":40,"v":43},{"kind":"kh","line":"4kh5","t":41,"v":-5},{"kind":"kh","line":"4kh5","t":42,"v":-32},{"kind":"kh","line":"4kh5","t":43,"v":2},{"kind":"kh","line":"4kh5","t":44,"v":-13},{"kind":"kh","line":"4kh5","t":45,"v":-40},{"kind":"kh","line":"4kh5","t":46,"v":-53},{"kind":"kh","line":"4kh5","t":47,"v":-53},

{"kind":"kh","line":"5kh1","t":48,"v":-37},{"kind":"kh","line":"5kh1","t":49,"v":-7},{"kind":"kh","line":"5kh1","t":50,"v":37},{"kind":"kh","line":"5kh1","t":51,"v":48},
{"kind":"db","line":"5db1","t":48,"v":-45},{"kind":"db","line":"5db1","t":49,"v":-33},{"kind":"db","line":"5db1","t":50,"v":-18},{"kind":"db","line":"5db1","t":51,"v":-8},
{"kind":"lb","line":"5lb1","t":48,"v":-42},{"kind":"lb","line":"5lb1","t":49,"v":-25},{"kind":"lb","line":"5lb1","t":50,"v":-10},{"kind":"lb","line":"5lb1","t":51,"v":10},
{"kind":"lb","line":"5lb2","t":48,"v":-48},{"kind":"lb","line":"5lb2","t":49,"v":-32},{"kind":"lb","line":"5lb2","t":50,"v":-18},{"kind":"lb","line":"5lb2","t":51,"v":-2},
{"kind":"lb","line":"5lb3","t":48,"v":-55},{"kind":"lb","line":"5lb3","t":49,"v":-45},{"kind":"lb","line":"5lb3","t":50,"v":-30},{"kind":"lb","line":"5lb3","t":51,"v":-18},
{"kind":"db","line":"5db2","t":48,"v":-60},{"kind":"db","line":"5db2","t":49,"v":-50},{"kind":"db","line":"5db2","t":50,"v":-35},{"kind":"db","line":"5db2","t":51,"v":-25},
{"kind":"db","line":"5db3","t":48,"v":-65},{"kind":"db","line":"5db3","t":49,"v":-58},{"kind":"db","line":"5db3","t":50,"v":-40},{"kind":"db","line":"5db3","t":51,"v":-32},
{"kind":"kh","line":"5kh2","t":48,"v":-68},{"kind":"kh","line":"5kh2","t":49,"v":-65},{"kind":"kh","line":"5kh2","t":50,"v":-45},{"kind":"kh","line":"5kh2","t":51,"v":-20},
{"kind":"kh","line":"5kh3","t":48,"v":-70},{"kind":"kh","line":"5kh3","t":49,"v":-70},{"kind":"kh","line":"5kh3","t":50,"v":-50},{"kind":"kh","line":"5kh3","t":51,"v":-35},
{"kind":"kh","line":"5kh4","t":48,"v":-72},{"kind":"kh","line":"5kh4","t":49,"v":-68},{"kind":"kh","line":"5kh4","t":50,"v":-55},{"kind":"kh","line":"5kh4","t":51,"v":-40},
{"kind":"kh","line":"5kh5","t":48,"v":-66},{"kind":"kh","line":"5kh5","t":49,"v":-60},{"kind":"kh","line":"5kh5","t":50,"v":-48},{"kind":"kh","line":"5kh5","t":51,"v":-25}
]
},
"layer": [
{"data": {"name": "grid"},
 "mark": {"type": "rule", "stroke": "#c4c4c4", "strokeWidth": 2, "strokeDash": [9, 18], "strokeDashOffset": -5},
 "encoding": {"x": {"field": "t", "type": "quantitative", "scale": {"domain": [1.0526, 51.0526], "nice": false, "zero": false}, "axis": null}}},
{"mark": {"type": "rule", "stroke": "#dddddd", "strokeWidth": 1.5},
 "encoding": {"y": {"datum": 0, "type": "quantitative", "scale": {"domain": [-300, 360], "nice": false, "zero": false}, "axis": null}}},
{"data": {"name": "lines"}, "transform": [{"filter": "datum.kind == 'db'"}],
 "mark": {"type": "line", "stroke": "#4c72b0", "strokeOpacity": 0.6, "strokeWidth": 3, "clip": true, "strokeJoin": "miter"},
 "encoding": {"x": {"field": "t", "type": "quantitative", "scale": {"domain": [1.0526, 51.0526], "nice": false, "zero": false}, "axis": null},
  "y": {"field": "v", "type": "quantitative", "scale": {"domain": [-300, 360], "nice": false, "zero": false}, "axis": null},
  "detail": {"field": "line", "type": "nominal"}, "order": {"field": "t", "type": "quantitative"}}},
{"data": {"name": "lines"}, "transform": [{"filter": "datum.kind == 'lb'"}],
 "mark": {"type": "line", "stroke": "#7ccbec", "strokeOpacity": 0.7, "strokeWidth": 3, "clip": true, "strokeJoin": "miter"},
 "encoding": {"x": {"field": "t", "type": "quantitative", "scale": {"domain": [1.0526, 51.0526], "nice": false, "zero": false}, "axis": null},
  "y": {"field": "v", "type": "quantitative", "scale": {"domain": [-300, 360], "nice": false, "zero": false}, "axis": null},
  "detail": {"field": "line", "type": "nominal"}, "order": {"field": "t", "type": "quantitative"}}},
{"data": {"name": "lines"}, "transform": [{"filter": "datum.kind == 'kh'"}],
 "mark": {"type": "line", "stroke": "#c8b53f", "strokeOpacity": 0.6, "strokeWidth": 3, "clip": true, "strokeJoin": "miter"},
 "encoding": {"x": {"field": "t", "type": "quantitative", "scale": {"domain": [1.0526, 51.0526], "nice": false, "zero": false}, "axis": null},
  "y": {"field": "v", "type": "quantitative", "scale": {"domain": [-300, 360], "nice": false, "zero": false}, "axis": null},
  "detail": {"field": "line", "type": "nominal"}, "order": {"field": "t", "type": "quantitative"}}},
{"data": {"name": "lines"}, "transform": [{"filter": "datum.kind == 'red'"}],
 "mark": {"type": "line", "stroke": "#d9545f", "strokeOpacity": 0.75, "strokeWidth": 6.5, "clip": true},
 "encoding": {"x": {"field": "t", "type": "quantitative", "scale": {"domain": [1.0526, 51.0526], "nice": false, "zero": false}, "axis": null},
  "y": {"field": "v", "type": "quantitative", "scale": {"domain": [-300, 360], "nice": false, "zero": false}, "axis": null},
  "order": {"field": "t", "type": "quantitative"}}},
{"data": {"name": "lines"}, "transform": [{"filter": "datum.kind == 'green'"}],
 "mark": {"type": "line", "stroke": "#2f7f2f", "strokeOpacity": 0.92, "strokeWidth": 6.5, "clip": true, "strokeCap": "round"},
 "encoding": {"x": {"field": "t", "type": "quantitative", "scale": {"domain": [1.0526, 51.0526], "nice": false, "zero": false}, "axis": null},
  "y": {"field": "v", "type": "quantitative", "scale": {"domain": [-300, 360], "nice": false, "zero": false}, "axis": null},
  "detail": {"field": "line", "type": "nominal"}, "order": {"field": "t", "type": "quantitative"}}}
]
}
